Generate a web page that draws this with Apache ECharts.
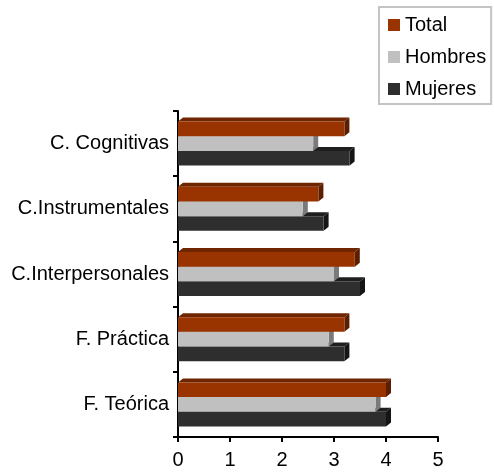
<!DOCTYPE html>
<html>
<head>
<meta charset="utf-8">
<script src="https://cdn.jsdelivr.net/npm/echarts@6/dist/echarts.min.js"></script>
<style>
  html, body { margin: 0; padding: 0; background: #fff; }
  #chart { width: 494px; height: 473px; }
</style>
</head>
<body>
<div id="chart"></div>
<script>
// Categories (bottom to top, as drawn on the category axis)
const categories = ['F. Teórica', 'F. Práctica', 'C.Interpersonales', 'C.Instrumentales', 'C. Cognitivas'];
const xTicks = [0, 1, 2, 3, 4, 5];
// Series values, in category order above
const total    = [4.0, 3.2, 3.4, 2.7, 3.2];
const hombres  = [3.8, 2.9, 3.0, 2.4, 2.6];
const mujeres  = [4.0, 3.2, 3.5, 2.8, 3.3];

const chart = echarts.init(document.getElementById('chart'), null, { renderer: 'canvas' });

function make3D(name, values, offset, front, top, side) {
  return {
    name: name,
    type: 'custom',
    itemStyle: { color: front },
    encode: { x: 0, y: 1 },
    data: values.map((v, i) => [v, i]),
    renderItem: function (params, api) {
      const end = api.coord([api.value(0), api.value(1)]);
      const start = api.coord([0, api.value(1)]);
      const band = api.size([0, 1])[1];
      const h = band * 0.225;
      const yc = end[1] + offset * h;
      const y0 = yc - h / 2, y1 = yc + h / 2;
      const x0 = start[0], x1 = end[0];
      const dx = 5, dy = 4;
      return {
        type: 'group',
        children: [
          { type: 'polygon', shape: { points: [[x0, y0], [x0 + dx, y0 - dy], [x1 + dx, y0 - dy], [x1, y0]] }, style: { fill: top } },
          { type: 'polygon', shape: { points: [[x1, y0], [x1 + dx, y0 - dy], [x1 + dx, y1 - dy], [x1, y1]] }, style: { fill: side } },
          { type: 'rect', shape: { x: x0, y: y0, width: x1 - x0, height: y1 - y0 }, style: { fill: front } }
        ]
      };
    }
  };
}

chart.setOption({
  animation: false,
  backgroundColor: '#ffffff',
  textStyle: { fontFamily: 'Liberation Sans, Arial, sans-serif' },
  grid: { left: 178, right: 56, top: 111, bottom: 36, containLabel: false },
  legend: {
    data: ['Total', 'Hombres', 'Mujeres'],
    orient: 'vertical',
    left: 379, top: 7,
    padding: [8, 5, 5, 9],
    itemWidth: 12, itemHeight: 12, itemGap: 12,
    icon: 'rect',
    borderColor: '#c4c4c4', borderWidth: 2,
    textStyle: { fontSize: 20, color: '#000', fontFamily: 'Liberation Sans, Arial, sans-serif' }
  },
  xAxis: {
    type: 'value', min: 0, max: 5, interval: 1,
    axisLine: { show: true, lineStyle: { color: '#000', width: 2 } },
    axisTick: { show: true, length: 5, lineStyle: { color: '#000', width: 2 } },
    axisLabel: { fontSize: 20, color: '#000', margin: 13, formatter: v => String(xTicks[v] !== undefined ? xTicks[v] : v) },
    splitLine: { show: false }
  },
  yAxis: {
    type: 'category', data: categories,
    axisLine: { show: true, lineStyle: { color: '#000', width: 2 } },
    axisTick: { show: true, length: 5, lineStyle: { color: '#000', width: 2 } },
    axisLabel: { fontSize: 20, color: '#000', margin: 9 },
    splitLine: { show: false }
  },
  series: [
    make3D('Mujeres', mujeres, 1, '#2e2e2e', '#1f1f1f', '#151515'),
    make3D('Hombres', hombres, 0, '#c0c0c0', '#9a9a9a', '#7a7a7a'),
    make3D('Total', total, -1, '#993300', '#6e2500', '#5a1e00')
  ]
});
</script>
</body>
</html>
